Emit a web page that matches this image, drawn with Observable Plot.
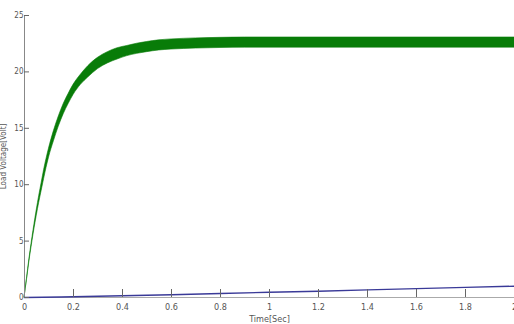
<!DOCTYPE html>
<html>
<head>
<meta charset="utf-8">
<script src="https://cdn.jsdelivr.net/npm/d3@7"></script>
<script src="https://cdn.jsdelivr.net/npm/@observablehq/plot@0.6"></script>
<style>
  html, body { margin: 0; padding: 0; background: #fff; }
  #chart svg { display: block; }
</style>
</head>
<body>
<div id="chart"></div>
<script>
// Green band (load voltage with ripple): time, lower and upper envelope
const greenTime  = [0, 0.01, 0.02, 0.03, 0.04, 0.05, 0.06, 0.07, 0.08, 0.09, 0.10, 0.12, 0.14, 0.16, 0.18, 0.20, 0.23, 0.26, 0.30, 0.34, 0.38, 0.42, 0.46, 0.50, 0.55, 0.60, 0.70, 0.80, 0.90, 1.00, 1.20, 1.40, 1.60, 1.80, 2.00];
const greenLower = [0, 1.55, 3.2, 4.65, 6.0, 7.25, 8.4, 9.45, 10.5, 11.5, 12.4, 13.85, 15.15, 16.25, 17.15, 17.95, 18.85, 19.5, 20.25, 20.75, 21.1, 21.4, 21.6, 21.75, 21.9, 21.98, 22.07, 22.12, 22.15, 22.15, 22.15, 22.15, 22.15, 22.15, 22.15];
const greenUpper = [0, 1.65, 3.4, 4.95, 6.4, 7.75, 9.0, 10.15, 11.3, 12.3, 13.2, 14.75, 16.05, 17.15, 18.05, 18.85, 19.75, 20.5, 21.25, 21.75, 22.1, 22.3, 22.5, 22.65, 22.8, 22.88, 22.97, 23.02, 23.05, 23.05, 23.05, 23.05, 23.05, 23.05, 23.05];

// Blue trace
const blueTime  = [0, 0.15, 0.40, 0.60, 0.80, 1.00, 1.20, 1.40, 1.60, 1.80, 2.00];
const blueValue = [0, 0.05, 0.15, 0.25, 0.36, 0.46, 0.56, 0.68, 0.79, 0.90, 1.00];

const xTicks = [0, 0.2, 0.4, 0.6, 0.8, 1, 1.2, 1.4, 1.6, 1.8, 2];
const yTicks = [0, 5, 10, 15, 20, 25];

const greenData = greenTime.map((t, i) => ({t, lo: greenLower[i], hi: greenUpper[i]}));
const blueData = blueTime.map((t, i) => ({t, v: blueValue[i]}));

const fmt = d => String(d);

const chart = Plot.plot({
  width: 514,
  height: 324,
  marginLeft: 24,
  marginRight: 0,
  marginTop: 15,
  marginBottom: 27,
  style: {fontFamily: "'Liberation Sans Narrow', 'DejaVu Sans Condensed', sans-serif", fontSize: "9px", color: "#555", background: "#fff"},
  x: {domain: [0, 2]},
  y: {domain: [0, 25]},
  marks: [
    Plot.areaY(greenData, {x: "t", y1: "lo", y2: "hi", fill: "#087c08", stroke: "#087c08", strokeWidth: 0.6, curve: "monotone-x"}),
    Plot.ruleX([0], {stroke: "#888", strokeWidth: 1}),
    Plot.ruleY([0], {stroke: "#aaa", strokeWidth: 1}),
    Plot.lineY(blueData, {x: "t", y: "v", stroke: "#3a3a98", strokeWidth: 1.4}),
    Plot.axisX({ticks: xTicks, tickFormat: fmt, tickSize: 0, tickPadding: 6, label: "Time[Sec]", labelAnchor: "center", labelArrow: "none", labelOffset: 24, fontSize: 9, fill: "#555"}),
    Plot.axisX({ticks: xTicks.filter(d => d > 0), text: null, tickSize: 8, dy: -8, stroke: "#666", label: null}),
    Plot.axisY({ticks: yTicks, tickFormat: fmt, tickSize: 0, tickPadding: 1, fontSize: 8, fill: "#555", label: "Load Voltage[Volt]", labelAnchor: "center", labelArrow: "none", labelOffset: 24}),
    Plot.axisY({ticks: yTicks, text: null, tickSize: 5, dx: 5, stroke: "#666", label: null})
  ]
});

document.getElementById("chart").appendChild(chart);
</script>
</body>
</html>
